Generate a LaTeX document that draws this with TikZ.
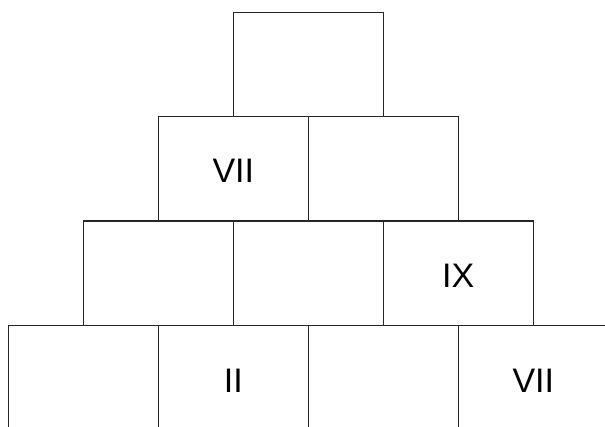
\documentclass[tikz,border=0pt]{standalone}
\usepackage{fontspec}
\setmainfont{Liberation Sans}
\begin{document}
\begin{tikzpicture}[x=1pt,y=-1pt,
  cell/.style={draw=black!85,line width=1.2pt,rectangle,inner sep=0pt,outer sep=0pt,
    minimum width=150pt,minimum height=104.3pt},
  txt/.style={font=\fontsize{34}{40}\selectfont,text=black,inner sep=0pt}]
\useasboundingbox (0,0) rectangle (605,426);
\clip (0,0) rectangle (605,426);
% row 1
\node[cell] (t) at (308.3,64.5) {};
% row 2
\node[cell] (b1) at (233.3,168.8) {};
\node[cell] (b2) at (383.3,168.8) {};
% row 3
\node[cell] (c1) at (158.3,273.1) {};
\node[cell] (c2) at (308.3,273.1) {};
\node[cell] (c3) at (458.3,273.1) {};
% row 4
\node[cell] (d1) at (83.3,377.4) {};
\node[cell] (d2) at (233.3,377.4) {};
\node[cell] (d3) at (383.3,377.4) {};
\node[cell] (d4) at (533.3,377.4) {};
% labels
\node[txt] (lb1) at ([yshift=-2.5pt]b1.center) {VII};
\node[txt] (lc3) at ([yshift=-2.5pt]c3.center) {IX};
\node[txt] (ld2) at ([yshift=-3pt]d2.center) {II};
\node[txt] (ld4) at ([yshift=-3pt]d4.center) {VII};
\end{tikzpicture}
\end{document}
